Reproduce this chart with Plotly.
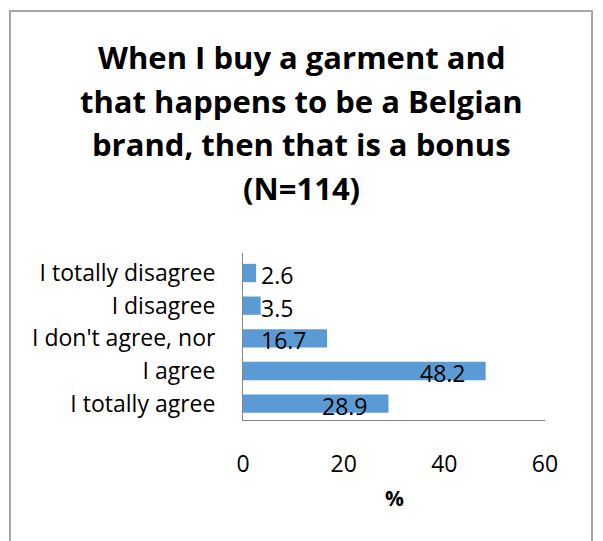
import plotly.graph_objects as go

# Survey answers (percent of respondents, N=114)
categories = ["I totally disagree", "I disagree", "I don't agree, nor", "I agree", "I totally agree"]
values = [2.6, 3.5, 16.7, 48.2, 28.9]
title_lines = ["When I buy a garment and", "that happens to be a Belgian",
               "brand, then that is a bonus", "(N=114)"]
x_ticks = [0, 20, 40, 60]

W, H = 603, 541
L, R, T, B = 243, 58, 253, 121
PW, PH = W - L - R, H - T - B

FONT = "Open Sans"
BAR = "#5B9BD5"
AXIS = "#868686"


def px_x(x):
    return (x - L) / PW


def px_y(y):
    return (H - B - y) / PH


fig = go.Figure(go.Bar(
    x=values, y=categories, orientation="h",
    marker=dict(color=BAR, line=dict(width=0)),
    width=0.56, hoverinfo="skip",
))

annotations = []
# value labels: placed just inside the bar end; short bars get them at the axis start
for c, v in zip(categories, values):
    if v < 10:
        annotations.append(dict(x=0, y=c, xref="x", yref="y", text=f"{v}",
                                showarrow=False, xanchor="left", xshift=16, yshift=-2,
                                font=dict(family=FONT, size=23, color="black")))
    else:
        annotations.append(dict(x=v, y=c, xref="x", yref="y", text=f"{v}",
                                showarrow=False, xanchor="right", xshift=-18, yshift=-2,
                                font=dict(family=FONT, size=23, color="black")))

title_centres = [57, 100.5, 144, 188]
for line, yc in zip(title_lines, title_centres):
    annotations.append(dict(x=px_x(W / 2), y=px_y(yc), xref="paper", yref="paper",
                            text=f"<b>{line}</b>", showarrow=False,
                            xanchor="center", yanchor="middle",
                            font=dict(family=FONT, size=31, color="black")))

annotations.append(dict(x=0.5, y=px_y(498), xref="paper", yref="paper", text="<b>%</b>",
                        showarrow=False, xanchor="center", yanchor="middle",
                        font=dict(family=FONT, size=21, color="black")))

fig.update_layout(
    width=W, height=H,
    margin=dict(l=L, r=R, t=T, b=B, pad=0),
    paper_bgcolor="white", plot_bgcolor="white",
    showlegend=False,
    annotations=annotations,
    shapes=[dict(type="rect", xref="paper", yref="paper",
                 x0=px_x(10), x1=px_x(592), y0=px_y(560), y1=px_y(11),
                 line=dict(color="#A6A6A6", width=2), fillcolor="rgba(0,0,0,0)",
                 layer="below")],
    xaxis=dict(range=[0, 60], tickvals=x_ticks, ticktext=[str(t) for t in x_ticks],
               showgrid=False, zeroline=False, showline=True, linecolor=AXIS, linewidth=1,
               ticks="", ticklabelstandoff=23,
               tickfont=dict(family=FONT, size=23, color="black")),
    yaxis=dict(autorange="reversed", showgrid=False, zeroline=False,
               showline=True, linecolor=AXIS, linewidth=1, ticks="",
               ticklabelstandoff=22,
               tickfont=dict(family=FONT, size=23, color="black")),
    bargap=0.44,
)

fig.write_html("out.html")
